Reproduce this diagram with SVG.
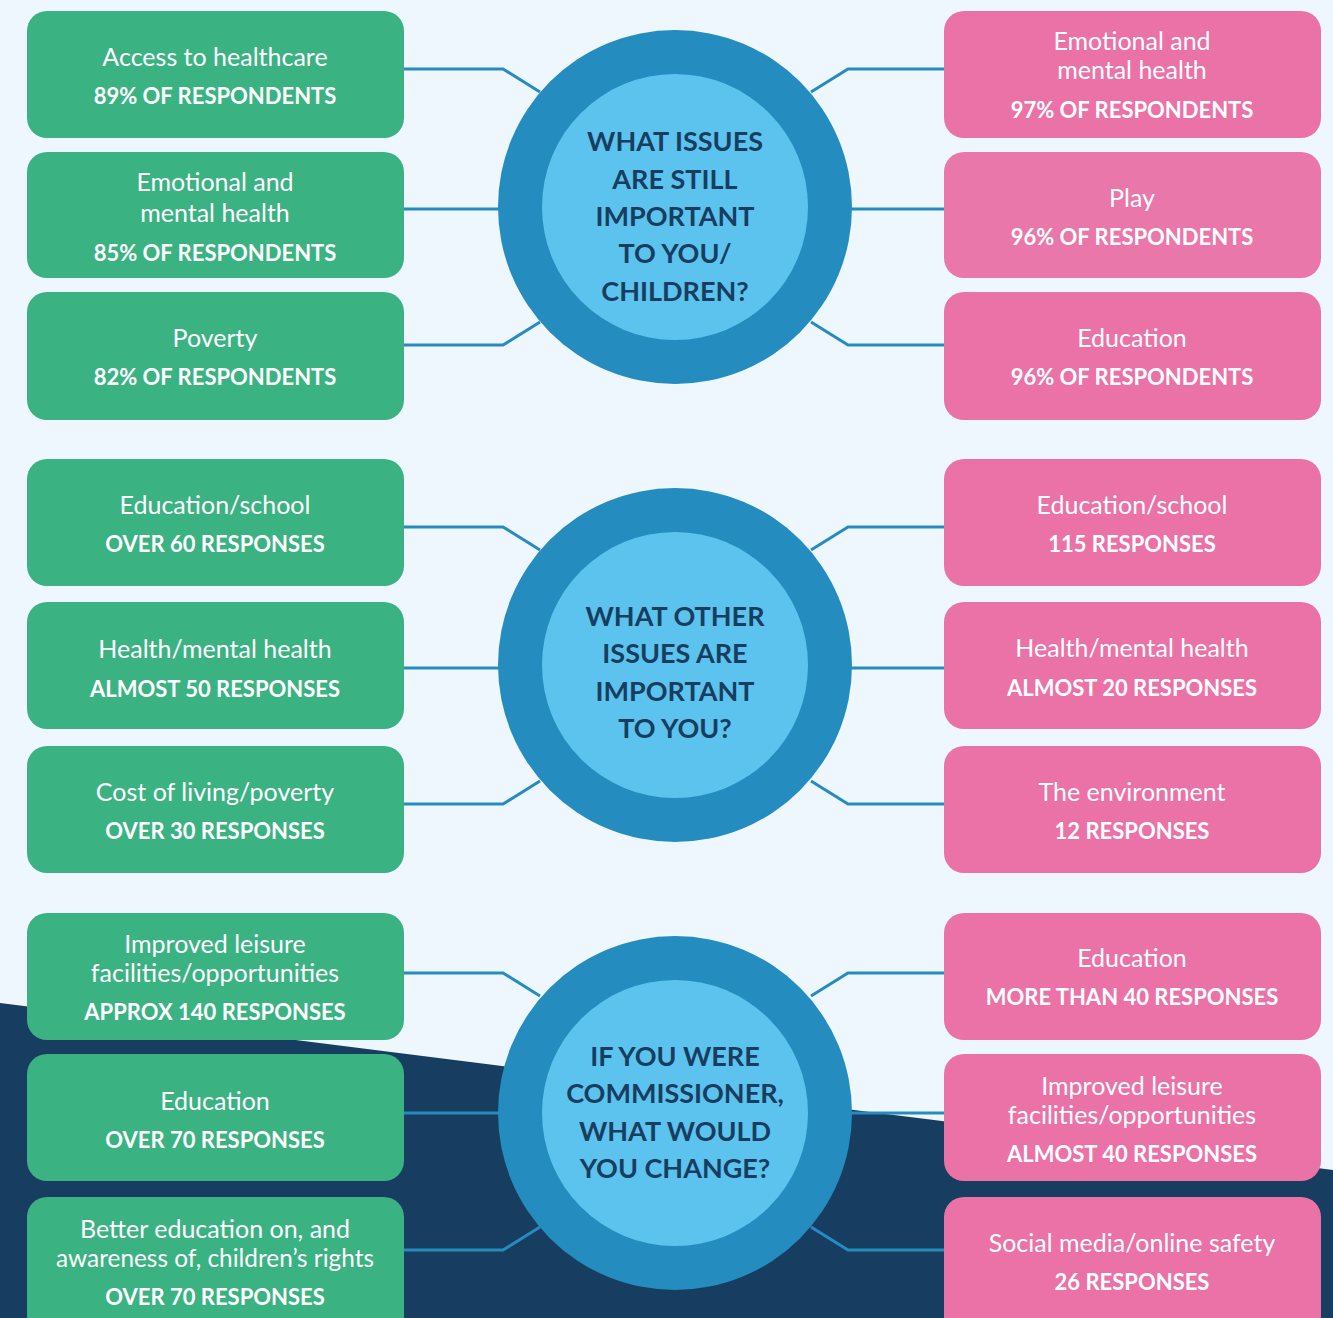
<svg xmlns="http://www.w3.org/2000/svg" width="1333" height="1318" viewBox="0 0 1333 1318">
<style>
.g{fill:#3bb282}
.p{fill:#ea72a7}
.t{font-family:Lato,"Open Sans","Liberation Sans",sans-serif;fill:#fff;text-anchor:middle}
.n{font-size:25px}
.b{font-size:22px;font-weight:bold}
.h{font-family:Lato,"Open Sans","Liberation Sans",sans-serif;fill:#173e60;text-anchor:middle;font-size:27px;font-weight:bold}
.c{fill:none;stroke:#258bc0;stroke-width:3}
.o{fill:#258cbf}
.i{fill:#5cc3ee}
</style>
<rect width="1333" height="1318" fill="#eef7fd"/>
<path d="M0,1003 L1333,1170 L1333,1318 L0,1318 Z" fill="#173e60"/>
<g id="connectors">
<path class="c" d="M404,69 H503 L540,92 M404,209 H500 M404,345 H503 L540,322"/>
<path class="c" d="M944,69 H848 L811,92 M944,209 H850 M944,345 H848 L811,322"/>
<path class="c" d="M404,527 H503 L540,550 M404,668 H500 M404,804 H503 L540,781"/>
<path class="c" d="M944,527 H848 L811,550 M944,668 H850 M944,804 H848 L811,781"/>
<path class="c" d="M404,973 H503 L540,996 M404,1113 H500 M404,1250 H503 L540,1227"/>
<path class="c" d="M944,973 H848 L811,996 M944,1113 H850 M944,1250 H848 L811,1227"/>
</g>
<g id="hub1"><circle class="o" cx="675" cy="207" r="177"/><circle class="i" cx="675" cy="207" r="133"/>
<text class="h"><tspan x="675" y="151">WHAT ISSUES</tspan><tspan x="675" y="189">ARE STILL</tspan><tspan x="675" y="226">IMPORTANT</tspan><tspan x="675" y="263">TO YOU/</tspan><tspan x="675" y="301">CHILDREN?</tspan></text></g>
<g id="hub2"><circle class="o" cx="675" cy="665" r="177"/><circle class="i" cx="675" cy="665" r="133"/>
<text class="h"><tspan x="675" y="626">WHAT OTHER</tspan><tspan x="675" y="663">ISSUES ARE</tspan><tspan x="675" y="701">IMPORTANT</tspan><tspan x="675" y="738">TO YOU?</tspan></text></g>
<g id="hub3"><circle class="o" cx="675" cy="1113" r="177"/><circle class="i" cx="675" cy="1113" r="133"/>
<text class="h"><tspan x="675" y="1066">IF YOU WERE</tspan><tspan x="675" y="1103">COMMISSIONER,</tspan><tspan x="675" y="1141">WHAT WOULD</tspan><tspan x="675" y="1178">YOU CHANGE?</tspan></text></g>

<g id="l1"><rect class="g" x="27" y="11" width="377" height="127" rx="20"/><text class="t n" x="215" y="66">Access to healthcare</text><text class="t b" x="215" y="104">89% OF RESPONDENTS</text></g>
<g id="l2"><rect class="g" x="27" y="152" width="377" height="126" rx="20"/><text class="t n" x="215" y="191">Emotional and</text><text class="t n" x="215" y="222">mental health</text><text class="t b" x="215" y="261">85% OF RESPONDENTS</text></g>
<g id="l3"><rect class="g" x="27" y="292" width="377" height="128" rx="20"/><text class="t n" x="215" y="347">Poverty</text><text class="t b" x="215" y="385">82% OF RESPONDENTS</text></g>
<g id="r1"><rect class="p" x="944" y="11" width="377" height="127" rx="20"/><text class="t n" x="1132" y="50">Emotional and</text><text class="t n" x="1132" y="79">mental health</text><text class="t b" x="1132" y="118">97% OF RESPONDENTS</text></g>
<g id="r2"><rect class="p" x="944" y="152" width="377" height="126" rx="20" style="fill:#e977a9"/><text class="t n" x="1132" y="207">Play</text><text class="t b" x="1132" y="245">96% OF RESPONDENTS</text></g>
<g id="r3"><rect class="p" x="944" y="292" width="377" height="128" rx="20"/><text class="t n" x="1132" y="347">Education</text><text class="t b" x="1132" y="385">96% OF RESPONDENTS</text></g>

<g id="l4"><rect class="g" x="27" y="459" width="377" height="127" rx="20"/><text class="t n" x="215" y="514">Education/school</text><text class="t b" x="215" y="552">OVER 60 RESPONSES</text></g>
<g id="l5"><rect class="g" x="27" y="602" width="377" height="127" rx="20"/><text class="t n" x="215" y="658">Health/mental health</text><text class="t b" x="215" y="697">ALMOST 50 RESPONSES</text></g>
<g id="l6"><rect class="g" x="27" y="746" width="377" height="127" rx="20"/><text class="t n" x="215" y="801">Cost of living/poverty</text><text class="t b" x="215" y="839">OVER 30 RESPONSES</text></g>
<g id="r4"><rect class="p" x="944" y="459" width="377" height="127" rx="20"/><text class="t n" x="1132" y="514">Education/school</text><text class="t b" x="1132" y="552">115 RESPONSES</text></g>
<g id="r5"><rect class="p" x="944" y="602" width="377" height="127" rx="20"/><text class="t n" x="1132" y="657">Health/mental health</text><text class="t b" x="1132" y="696">ALMOST 20 RESPONSES</text></g>
<g id="r6"><rect class="p" x="944" y="746" width="377" height="127" rx="20"/><text class="t n" x="1132" y="801">The environment</text><text class="t b" x="1132" y="839">12 RESPONSES</text></g>

<g id="l7"><rect class="g" x="27" y="913" width="377" height="127" rx="20"/><text class="t n" x="215" y="953">Improved leisure</text><text class="t n" x="215" y="982">facilities/opportunities</text><text class="t b" x="215" y="1020">APPROX 140 RESPONSES</text></g>
<g id="l8"><rect class="g" x="27" y="1054" width="377" height="127" rx="20"/><text class="t n" x="215" y="1110">Education</text><text class="t b" x="215" y="1148">OVER 70 RESPONSES</text></g>
<g id="l9"><rect class="g" x="27" y="1197" width="377" height="150" rx="20"/><text class="t n" x="215" y="1238">Better education on, and</text><text class="t n" x="215" y="1267" textLength="318" lengthAdjust="spacingAndGlyphs">awareness of, children’s rights</text><text class="t b" x="215" y="1305">OVER 70 RESPONSES</text></g>
<g id="r7"><rect class="p" x="944" y="913" width="377" height="127" rx="20"/><text class="t n" x="1132" y="967">Education</text><text class="t b" x="1132" y="1005">MORE THAN 40 RESPONSES</text></g>
<g id="r8"><rect class="p" x="944" y="1054" width="377" height="127" rx="20"/><text class="t n" x="1132" y="1095">Improved leisure</text><text class="t n" x="1132" y="1124">facilities/opportunities</text><text class="t b" x="1132" y="1162">ALMOST 40 RESPONSES</text></g>
<g id="r9"><rect class="p" x="944" y="1197" width="377" height="150" rx="20"/><text class="t n" x="1132" y="1252">Social media/online safety</text><text class="t b" x="1132" y="1290">26 RESPONSES</text></g>
</svg>
